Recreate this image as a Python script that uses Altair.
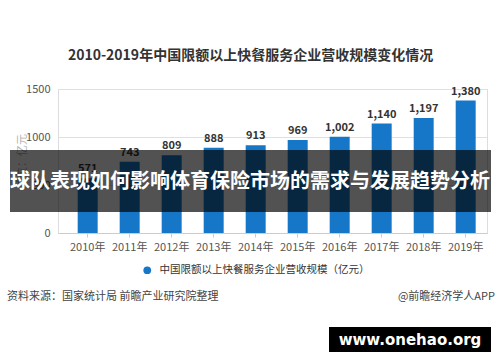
import altair as alt
import pandas as pd

years = ["2010年", "2011年", "2012年", "2013年", "2014年", "2015年", "2016年", "2017年", "2018年", "2019年"]
values = [571, 743, 809, 888, 913, 969, 1002, 1140, 1197, 1380]
series_name = "中国限额以上快餐服务企业营收规模（亿元）"
chart_title = "2010-2019年中国限额以上快餐服务企业营收规模变化情况"
y_title = "单位：亿元"
source_text = "资料来源：国家统计局 前瞻产业研究院整理"
credit_text = "@前瞻经济学人APP"
banner_text = "球队表现如何影响体育保险市场的需求与发展趋势分析"
watermark_text = "www.onehao.org"

FONT = "Noto Sans CJK SC"
BAR = "#1677c8"

df = pd.DataFrame({"year": years, "value": values, "series": [series_name] * len(years)})

base = alt.Chart(df)

x_enc = alt.X(
    "year:N",
    sort=years,
    title=None,
    scale=alt.Scale(paddingInner=0.524, paddingOuter=0.369, align=0.635),
    axis=alt.Axis(labelAngle=0, labelFont=FONT, labelFontSize=11, labelColor="#555555",
                  domainColor="#cccccc", tickColor="#cccccc", tickSize=4, labelPadding=4,
                  grid=False, zindex=0),
)
y_enc = alt.Y(
    "value:Q",
    title=y_title,
    scale=alt.Scale(domain=[0, 1500], nice=False),
    axis=alt.Axis(values=[0, 500, 1000, 1500], format="d", labelFont=FONT, labelFontSize=11,
                  labelColor="#555555", domain=False, ticks=False, labelPadding=8,
                  gridColor="#e0e0e0", titleFont=FONT, titleFontSize=11,
                  titleColor="#b0b0b0", titleFontWeight="normal", titlePadding=-2, zindex=0),
)

bars = base.mark_bar(color=BAR).encode(
    x=x_enc,
    y=y_enc,
    color=alt.Color("series:N", scale=alt.Scale(range=[BAR]),
                    legend=alt.Legend(title=None, orient="none", legendX=84, legendY=176,
                                      symbolType="circle", symbolSize=60, labelFont=FONT,
                                      labelFontSize=10.5, labelColor="#333333", labelLimit=0,
                                      labelOffset=7, symbolStrokeWidth=0)),
)

labels = base.mark_text(dy=-9, font=FONT, fontSize=11, fontWeight="bold", color="#333333").encode(
    x=alt.X("year:N", sort=years),
    y="value:Q",
    text=alt.Text("value:Q", format=","),
)

src = alt.Chart(pd.DataFrame({"t": [source_text]})).mark_text(
    align="left", baseline="middle", font=FONT, fontSize=11, color="#444444").encode(
    x=alt.value(-51), y=alt.value(208), text="t:N")
credit = alt.Chart(pd.DataFrame({"t": [credit_text]})).mark_text(
    align="right", baseline="middle", font=FONT, fontSize=11, color="#444444").encode(
    x=alt.value(437), y=alt.value(208), text="t:N")

band = alt.Chart(pd.DataFrame({"t": [banner_text]})).mark_rect(color="#000000", opacity=0.68).encode(
    x=alt.value(-48), x2=alt.value(433), y=alt.value(61), y2=alt.value(123))
band_text = alt.Chart(pd.DataFrame({"t": [banner_text]})).mark_text(
    align="center", baseline="middle", font=FONT, fontSize=20, fontWeight="bold", color="white").encode(
    x=alt.value(192), y=alt.value(93), text="t:N")

wm_box = alt.Chart(pd.DataFrame({"t": [watermark_text]})).mark_rect(color="#000000").encode(
    x=alt.value(271), x2=alt.value(433), y=alt.value(238), y2=alt.value(263))
wm_text = alt.Chart(pd.DataFrame({"t": [watermark_text]})).mark_text(
    align="center", baseline="middle", font="DejaVu Sans", fontSize=15, fontWeight="bold", color="white").encode(
    x=alt.value(352), y=alt.value(251), text="t:N")

chart = alt.layer(bars, labels, src, credit, band, band_text, wm_box, wm_text).properties(
    width=429,
    height=144,
    autosize=alt.AutoSizeParams(type="none"),
    padding={"left": 58, "top": 89, "right": 13, "bottom": 129},
    title=alt.TitleParams(chart_title, font=FONT, fontSize=14, fontWeight="bold", color="#333333",
                          anchor="middle", dx=-22, offset=20),
).configure_view(stroke=None).configure(background="white")

chart.save("out.html", embed_options={"renderer": "svg", "actions": False})
